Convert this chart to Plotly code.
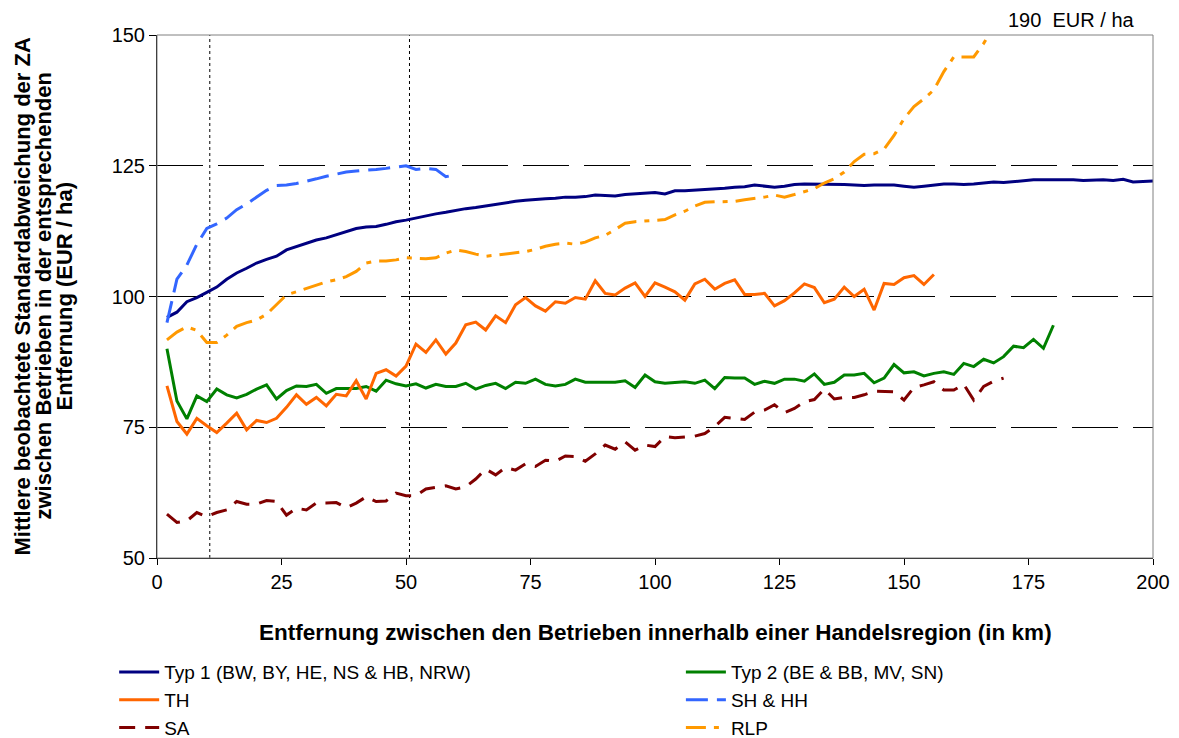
import plotly.graph_objects as go

# ---------------- data ----------------
km_typ1 = list(range(2, 201, 2))
typ1 = [96.0, 97.0, 99.0, 99.8, 100.8, 101.8, 103.3, 104.5, 105.4, 106.4,
        107.1, 107.7, 108.9, 109.5, 110.2, 110.8, 111.2, 111.8, 112.5, 113.0,
        113.3, 113.4, 113.8, 114.3, 114.6, 115.0, 115.5, 115.8, 116.1, 116.5,
        116.8, 117.0, 117.3, 117.7, 118.0, 118.2, 118.4, 118.6, 118.7, 118.8,
        119.0, 119.0, 119.1, 119.4, 119.3, 119.2, 119.5, 119.6, 119.8, 119.9,
        119.6, 120.2, 120.2, 120.3, 120.4, 120.6, 120.7, 120.9, 121.0, 121.3,
        121.1, 120.9, 121.1, 121.4, 121.5, 121.5, 121.5, 121.5, 121.4, 121.3,
        121.2, 121.3, 121.3, 121.3, 121.1, 120.9, 121.1, 121.3, 121.5, 121.5,
        121.4, 121.5, 121.7, 121.9, 121.8, 122.0, 122.2, 122.3, 122.3, 122.3,
        122.4, 122.3, 122.2, 122.3, 122.3, 122.2, 122.4, 121.9, 122.0, 122.1]

km_typ2 = list(range(2, 181, 2))
typ2 = [90.0, 80.0, 76.6, 81.0, 79.9, 82.3, 81.2, 80.6, 81.3, 82.3,
        83.1, 80.4, 82.0, 82.9, 82.8, 83.2, 81.5, 82.4, 82.4, 82.4,
        82.8, 81.9, 84.0, 83.3, 82.9, 83.3, 82.5, 83.2, 82.8, 82.8,
        83.4, 82.3, 83.0, 83.4, 82.4, 83.6, 83.4, 84.2, 83.2, 82.9,
        83.2, 84.2, 83.6, 83.6, 83.5, 83.6, 83.9, 82.6, 85.0, 83.7,
        83.4, 83.6, 83.7, 83.4, 84.0, 82.4, 84.5, 84.4, 84.4, 83.2,
        83.8, 83.4, 84.2, 84.2, 83.8, 85.2, 83.2, 83.6, 85.0, 85.0,
        85.3, 83.5, 84.4, 87.0, 85.4, 85.6, 84.8, 85.3, 85.6, 85.1,
        87.2, 86.6, 88.0, 87.3, 88.5, 90.5, 90.2, 91.8, 90.1, 94.5]

km_th = list(range(2, 157, 2))
th = [82.9, 76.1, 73.7, 76.7, 75.3, 74.0, 75.8, 77.7, 74.5, 76.3,
      75.9, 76.7, 78.8, 81.2, 79.4, 80.7, 79.1, 81.3, 81.0, 83.9,
      80.4, 85.3, 86.0, 84.8, 86.7, 90.9, 89.3, 91.7, 89.0, 91.1,
      94.6, 95.1, 93.6, 96.3, 95.0, 98.4, 99.8, 98.2, 97.2, 99.0,
      98.7, 99.8, 99.5, 103.0, 100.6, 100.3, 101.6, 102.6, 100.0, 102.6,
      101.8, 100.9, 99.3, 102.4, 103.3, 101.4, 102.5, 103.2, 100.4, 100.4,
      100.6, 98.2, 99.2, 100.7, 102.4, 101.7, 98.8, 99.5, 101.8, 100.0,
      101.4, 97.4, 102.5, 102.3, 103.6, 104.0, 102.3, 104.2]

km_sh = list(range(2, 61, 2))
sh = [95.0, 103.3, 106.0, 110.0, 113.0, 113.9, 115.0, 116.6, 117.7, 119.0,
      120.3, 121.2, 121.3, 121.6, 122.0, 122.5, 123.0, 123.4, 123.8, 124.0,
      124.1, 124.3, 124.5, 124.7, 125.0, 124.3, 124.5, 124.3, 122.9, 123.3]

km_sa = list(range(2, 171, 2))
sa = [58.4, 56.8, 57.1, 58.7, 57.9, 58.7, 59.2, 60.8, 60.3, 60.3,
      61.0, 60.8, 58.2, 59.5, 59.2, 60.5, 60.5, 60.6, 59.6, 60.5,
      61.7, 60.8, 60.9, 62.4, 61.9, 61.9, 63.2, 63.5, 63.8, 63.2,
      63.6, 65.1, 67.0, 65.9, 67.3, 66.8, 68.0, 67.5, 68.7, 68.5,
      69.5, 69.4, 68.5, 69.9, 71.6, 70.8, 72.2, 70.6, 71.6, 71.3,
      73.2, 73.0, 73.1, 73.3, 73.8, 75.1, 76.9, 76.7, 76.5, 77.9,
      78.3, 79.3, 77.8, 78.6, 79.9, 80.3, 82.3, 80.4, 80.7, 80.7,
      81.2, 81.9, 81.9, 81.8, 80.2, 82.6, 83.1, 83.7, 82.1, 82.1,
      83.2, 80.2, 82.8, 83.8, 84.4]

km_rlp = list(range(2, 169, 2))
rlp = [91.7, 93.2, 94.2, 93.5, 91.2, 91.2, 92.6, 94.3, 95.0, 95.5,
       96.6, 98.5, 100.3, 100.9, 101.5, 102.2, 102.8, 103.2, 103.8, 104.8,
       106.4, 106.8, 106.8, 107.0, 107.4, 107.3, 107.2, 107.4, 108.3, 108.9,
       108.6, 108.1, 107.7, 107.9, 108.1, 108.4, 108.6, 109.0, 109.6, 110.0,
       110.2, 110.0, 110.4, 111.2, 111.7, 112.8, 114.0, 114.3, 114.4, 114.5,
       114.7, 115.6, 116.3, 117.3, 118.0, 118.1, 118.1, 118.2, 118.5, 118.7,
       119.0, 119.4, 119.0, 119.5, 120.0, 120.6, 121.7, 122.5, 123.8, 125.8,
       127.2, 127.3, 128.2, 130.8, 134.0, 136.3, 137.8, 139.5, 143.0, 145.8,
       145.8, 145.8, 148.4, 151.5]

ref_lines_km = [10.6, 50.7]
y_ticks = [50, 75, 100, 125, 150]
x_ticks = [0, 25, 50, 75, 100, 125, 150, 175, 200]

FONT = "Liberation Sans, Arial, sans-serif"

# name, x, y, colour, dash, legend column
series = [
    ("Typ 1 (BW, BY, HE, NS & HB, NRW)", km_typ1, typ1, "#000080", "solid", "legend"),
    ("Typ 2 (BE & BB, MV, SN)", km_typ2, typ2, "#008000", "solid", "legend2"),
    ("TH", km_th, th, "#FF6600", "solid", "legend"),
    ("SH & HH", km_sh, sh, "#3366FF", "22px,9px", "legend2"),
    ("SA", km_sa, sa, "#800000", "16px,10px", "legend"),
    ("RLP", km_rlp, rlp, "#FF9900", "20px,8px,5px,8px", "legend2"),
]

fig = go.Figure()
for name, xs, ys, col, dash, lg in series:
    fig.add_trace(go.Scatter(x=xs, y=ys, name=name, mode="lines", legend=lg,
                             line=dict(color=col, width=3, dash=dash)))

shapes = []
for xv in ref_lines_km:
    shapes.append(dict(type="line", xref="x", yref="paper", x0=xv, x1=xv, y0=0, y1=1,
                       line=dict(color="#000000", width=1, dash="dot"), layer="below"))
shapes.append(dict(type="rect", xref="paper", yref="paper", x0=0, x1=1, y0=0, y1=1,
                   line=dict(color="#808080", width=1), layer="above"))

legend_common = dict(orientation="v", xanchor="left", yanchor="top",
                     font=dict(size=19, family=FONT), itemwidth=40,
                     tracegroupgap=0, bgcolor="rgba(0,0,0,0)")

# page has an 8px body margin: figure is 1171x730, plot area 996x523
fig.update_layout(
    width=1171, height=730,
    margin=dict(l=149, r=26, t=27, b=180, autoexpand=False),
    paper_bgcolor="white", plot_bgcolor="white",
    font=dict(family=FONT, size=20, color="#000000"),
    showlegend=True,
    legend=dict(x=-0.043, y=-0.182, **legend_common),
    legend2=dict(x=0.526, y=-0.182, **legend_common),
    shapes=shapes,
    xaxis=dict(range=[0, 200], tickvals=x_ticks, showgrid=False, zeroline=False,
               showline=True, linecolor="#000000", linewidth=1,
               ticks="outside", ticklen=6, tickcolor="#000000",
               tickfont=dict(size=20, family=FONT)),
    yaxis=dict(range=[50, 150], tickvals=y_ticks, showgrid=True, gridcolor="#000000",
               gridwidth=1, griddash="46px,15px", zeroline=False,
               showline=True, linecolor="#000000", linewidth=1,
               ticks="outside", ticklen=7, tickcolor="#000000",
               tickfont=dict(size=20, family=FONT)),
)

ann = []
ann.append(dict(text="<b>Entfernung zwischen den Betrieben innerhalb einer Handelsregion (in km)</b>",
                xref="paper", yref="paper", x=0.5, y=-0.143, xanchor="center", yanchor="middle",
                showarrow=False, font=dict(size=22.5, family=FONT)))
ytitle_lines = ["Mittlere beobachtete Standardabweichung der ZA",
                "zwischen Betrieben in der entsprechenden",
                "Entfernung (EUR / ha)"]
ytitle_px = [22, 43, 64]
for txt, px in zip(ytitle_lines, ytitle_px):
    ann.append(dict(text="<b>" + txt + "</b>", xref="paper", yref="paper",
                    x=(px - 157) / 996, y=0.5, xanchor="center", yanchor="middle",
                    textangle=-90, showarrow=False, font=dict(size=22, family=FONT)))
ann.append(dict(text="190\u00a0 EUR / ha", xref="paper", yref="paper",
                x=(1137 - 157) / 996, y=(558 - 20) / 523, xanchor="right", yanchor="middle",
                showarrow=False, font=dict(size=20, family=FONT)))
fig.update_layout(annotations=ann)

fig.write_html("out.html")
